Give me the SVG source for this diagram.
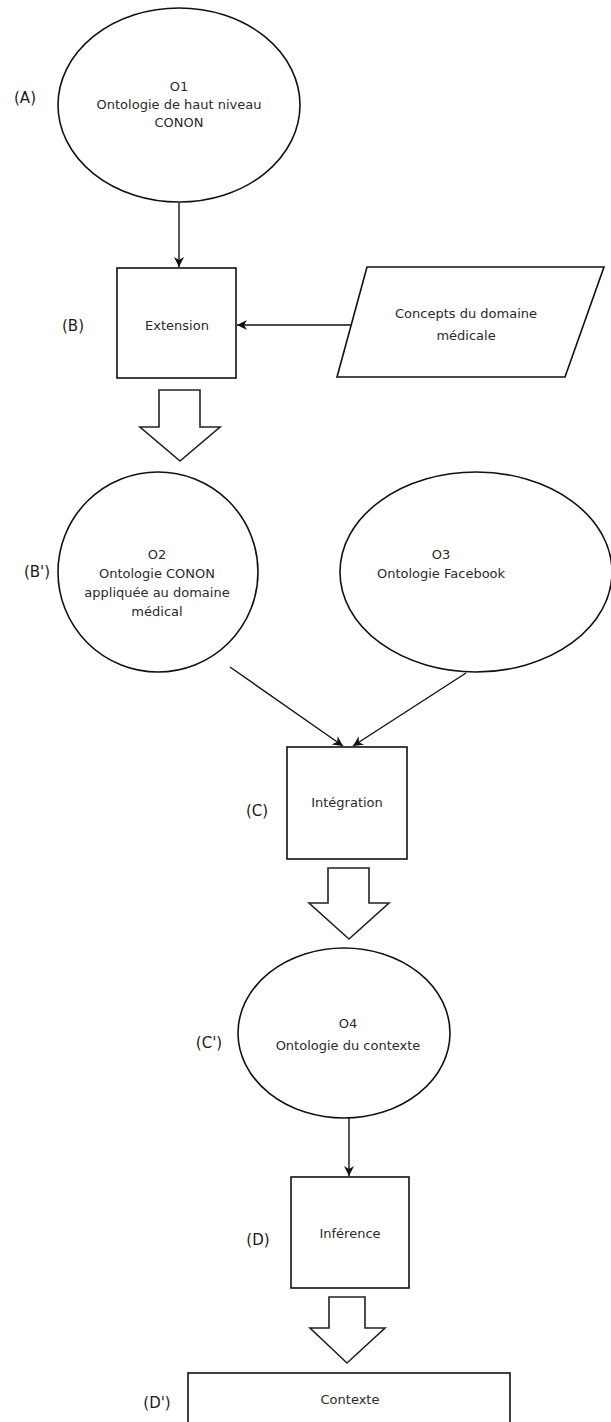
<svg xmlns="http://www.w3.org/2000/svg" width="611" height="1422" viewBox="0 0 611 1422">
<defs>
<style>
.n{fill:#fff;stroke:#111;stroke-width:1.6}
.t{font-family:"DejaVu Sans","Verdana",sans-serif;font-size:13px;fill:#2a2a2a;text-anchor:middle}
.l{font-family:"DejaVu Sans","Verdana",sans-serif;font-size:15px;fill:#1a1a1a;text-anchor:middle}
.c{fill:none;stroke:#111;stroke-width:1.4}
.b{fill:#fff;stroke:#222;stroke-width:1.6}
</style>
<marker id="ah" viewBox="0 0 10 10" refX="10" refY="5" markerWidth="10" markerHeight="10" markerUnits="userSpaceOnUse" orient="auto">
<path d="M0,0 L10,5 L0,10 L3,5 Z" fill="#111"/>
</marker>
</defs>
<rect width="611" height="1422" fill="#fff"/>

<g id="connectors">
<line class="c" x1="179" y1="203" x2="179" y2="267" marker-end="url(#ah)"/>
<line class="c" x1="351" y1="325" x2="237" y2="325" marker-end="url(#ah)"/>
<line class="c" x1="230" y1="667" x2="343" y2="746" marker-end="url(#ah)"/>
<line class="c" x1="466" y1="673" x2="353" y2="746" marker-end="url(#ah)"/>
<line class="c" x1="349" y1="1118" x2="349" y2="1176" marker-end="url(#ah)"/>
<path id="bigarrow1" class="b" d="M159,390 L200,390 L200,427 L220,427 L180,461 L140,427 L159,427 Z"/>
<path id="bigarrow2" class="b" d="M328,868 L369,868 L369,903 L389,903 L349,939 L309,903 L328,903 Z"/>
<path id="bigarrow3" class="b" d="M329,1297 L365,1297 L365,1328 L385,1328 L347,1363 L310,1328 L329,1328 Z"/>
</g>

<g id="O1">
<ellipse class="n" cx="179" cy="105" rx="121" ry="97"/>
<text class="t" x="179" y="91">O1</text>
<text class="t" x="179" y="109">Ontologie de haut niveau</text>
<text class="t" x="179" y="127">CONON</text>
<text class="l" x="25" y="103">(A)</text>
</g>

<g id="Extension">
<rect class="n" x="117" y="268" width="119" height="110"/>
<text class="t" x="177" y="330">Extension</text>
<text class="l" x="73" y="331">(B)</text>
</g>

<g id="Concepts">
<polygon class="n" points="367,267 604,267 565,377 337,377"/>
<text class="t" x="466" y="318">Concepts du domaine</text>
<text class="t" x="466" y="340">médicale</text>
</g>

<g id="O2">
<ellipse class="n" cx="158" cy="572" rx="100" ry="100"/>
<text class="t" x="157" y="559">O2</text>
<text class="t" x="157" y="578">Ontologie CONON</text>
<text class="t" x="157" y="597">appliquée au domaine</text>
<text class="t" x="157" y="616">médical</text>
<text class="l" x="37" y="577">(B')</text>
</g>

<g id="O3">
<ellipse class="n" cx="476" cy="572" rx="136" ry="100"/>
<text class="t" x="441" y="559">O3</text>
<text class="t" x="441" y="578">Ontologie Facebook</text>
</g>

<g id="Integration">
<rect class="n" x="287" y="747" width="120" height="112"/>
<text class="t" x="347" y="807">Intégration</text>
<text class="l" x="257" y="816">(C)</text>
</g>

<g id="O4">
<ellipse class="n" cx="344" cy="1033" rx="106" ry="85"/>
<text class="t" x="348" y="1028">O4</text>
<text class="t" x="348" y="1050">Ontologie du contexte</text>
<text class="l" x="209" y="1048">(C')</text>
</g>

<g id="Inference">
<rect class="n" x="291" y="1177" width="118" height="111"/>
<text class="t" x="350" y="1238">Inférence</text>
<text class="l" x="258" y="1245">(D)</text>
</g>

<g id="Contexte">
<rect class="n" x="188" y="1373" width="322" height="60"/>
<text class="t" x="350" y="1404">Contexte</text>
<text class="l" x="157" y="1408">(D')</text>
</g>
</svg>
